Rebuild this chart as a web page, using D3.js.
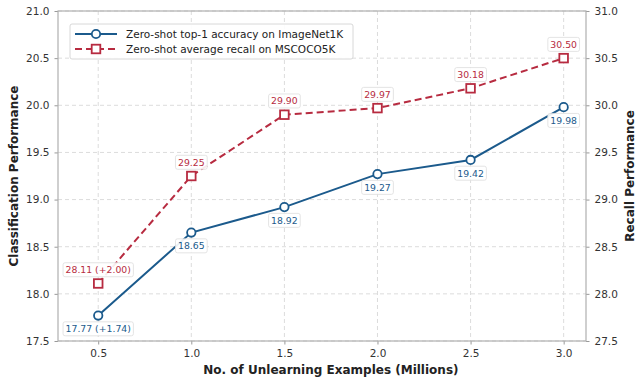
<!DOCTYPE html>
<html>
<head>
<meta charset="utf-8">
<script src="https://cdn.jsdelivr.net/npm/d3@7"></script>
<style>
  body { margin: 0; background: #fff; }
  text { font-family: "DejaVu Sans", sans-serif; }
</style>
</head>
<body>
<div id="chart"></div>
<script>
// data
const examples = [0.5, 1.0, 1.5, 2.0, 2.5, 3.0];
const accuracy = [17.77, 18.65, 18.92, 19.27, 19.42, 19.98];
const recall = [28.11, 29.25, 29.90, 29.97, 30.18, 30.50];
const accLabels = ["17.77 (+1.74)", "18.65", "18.92", "19.27", "19.42", "19.98"];
const recLabels = ["28.11 (+2.00)", "29.25", "29.90", "29.97", "30.18", "30.50"];
const xTicks = [0.5, 1.0, 1.5, 2.0, 2.5, 3.0];
const leftTicks = [17.5, 18.0, 18.5, 19.0, 19.5, 20.0, 20.5, 21.0];
const rightTicks = [27.5, 28.0, 28.5, 29.0, 29.5, 30.0, 30.5, 31.0];

const blue = "#1b5a8c", red = "#b72b40";
const W = 636, H = 377;
const margin = {top: 11, right: 50, bottom: 36, left: 58};
const width = W - margin.left - margin.right,
      height = H - margin.top - margin.bottom;

const svg = d3.select("#chart").append("svg")
    .attr("width", W).attr("height", H)
    .append("g")
    .attr("transform", "translate(" + margin.left + "," + margin.top + ")");

const x = d3.scaleLinear().domain([0.284, 3.12]).range([0, width]);
const yL = d3.scaleLinear().domain([17.5, 21.0]).range([height, 0]);
const yR = d3.scaleLinear().domain([27.5, 31.0]).range([height, 0]);

// grid
svg.append("g").selectAll("line").data(xTicks).enter().append("line")
    .attr("x1", d => x(d)).attr("x2", d => x(d))
    .attr("y1", 0).attr("y2", height)
    .attr("stroke", "#dcdcdc").attr("stroke-dasharray", "4,3");
svg.append("g").selectAll("line").data(leftTicks).enter().append("line")
    .attr("x1", 0).attr("x2", width)
    .attr("y1", d => yL(d)).attr("y2", d => yL(d))
    .attr("stroke", "#dcdcdc").attr("stroke-dasharray", "4,3");

// axes
function styleAxis(g) {
    g.select(".domain").remove();
    g.selectAll(".tick line").attr("stroke", "#999");
    g.selectAll(".tick text").attr("fill", "#333").style("font-size", "10.5px")
        .style("font-family", "DejaVu Sans");
}
svg.append("g").attr("transform", "translate(0," + height + ")")
    .call(d3.axisBottom(x).tickValues(xTicks).tickFormat(d3.format(".1f")).tickSize(3.5).tickPadding(5))
    .call(styleAxis);
svg.append("g")
    .call(d3.axisLeft(yL).tickValues(leftTicks).tickFormat(d3.format(".1f")).tickSize(3.5).tickPadding(5))
    .call(styleAxis);
svg.append("g").attr("transform", "translate(" + width + ",0)")
    .call(d3.axisRight(yR).tickValues(rightTicks).tickFormat(d3.format(".1f")).tickSize(3.5).tickPadding(5))
    .call(styleAxis);

svg.append("rect").attr("width", width).attr("height", height)
    .attr("fill", "none").attr("stroke", "#b0b0b0").attr("stroke-width", 1.2);

// axis titles
svg.append("text").attr("x", x(1.75)).attr("y", height + 33)
    .attr("text-anchor", "middle").style("font-size", "12px").style("font-weight", "bold")
    .attr("fill", "#222").text("No. of Unlearning Examples (Millions)");
svg.append("text").attr("transform", "translate(-40," + height / 2 + ") rotate(-90)")
    .attr("text-anchor", "middle").style("font-size", "12px").style("font-weight", "bold")
    .attr("fill", "#222").text("Classification Performance");
svg.append("text").attr("transform", "translate(" + (width + 48) + "," + height / 2 + ") rotate(-90)")
    .attr("text-anchor", "middle").style("font-size", "12px").style("font-weight", "bold")
    .attr("fill", "#222").text("Recall Performance");

// lines
const accData = examples.map((d, i) => [d, accuracy[i], accLabels[i]]);
const recData = examples.map((d, i) => [d, recall[i], recLabels[i]]);

svg.append("path").datum(accData)
    .attr("fill", "none").attr("stroke", blue).attr("stroke-width", 2)
    .attr("d", d3.line().x(d => x(d[0])).y(d => yL(d[1])));
svg.append("path").datum(recData)
    .attr("fill", "none").attr("stroke", red).attr("stroke-width", 2)
    .attr("stroke-dasharray", "7,4")
    .attr("d", d3.line().x(d => x(d[0])).y(d => yR(d[1])));

svg.selectAll(".dot").data(accData).enter().append("circle")
    .attr("cx", d => x(d[0])).attr("cy", d => yL(d[1])).attr("r", 4.2)
    .attr("fill", "#fff").attr("stroke", blue).attr("stroke-width", 1.8);
svg.selectAll(".sq").data(recData).enter().append("rect")
    .attr("x", d => x(d[0]) - 4.3).attr("y", d => yR(d[1]) - 4.3)
    .attr("width", 8.6).attr("height", 8.6)
    .attr("fill", "#fff").attr("stroke", red).attr("stroke-width", 1.8);

// value labels with boxes
function addLabel(px, py, txt, color) {
    const g = svg.append("g");
    const t = g.append("text").attr("x", px).attr("y", py).attr("dy", "0.35em")
        .attr("text-anchor", "middle").style("font-size", "9.3px").attr("fill", color).text(txt);
    const b = t.node().getBBox();
    g.insert("rect", "text").attr("x", b.x - 2.5).attr("y", b.y - 1.5)
        .attr("width", b.width + 5).attr("height", b.height + 3).attr("rx", 2)
        .attr("fill", "#fff").attr("fill-opacity", 0.9).attr("stroke", "#dddddd").attr("stroke-width", 0.8);
}
accData.forEach(d => addLabel(x(d[0]), yL(d[1]) + 13.5, d[2], blue));
recData.forEach(d => addLabel(x(d[0]), yR(d[1]) - 13.5, d[2], red));

// legend
const lg = svg.append("g").attr("transform", "translate(12,13)");
lg.append("rect").attr("width", 283).attr("height", 35).attr("rx", 2)
    .attr("fill", "#fff").attr("fill-opacity", 0.9).attr("stroke", "#d8d8d8");
lg.append("line").attr("x1", 5).attr("x2", 47).attr("y1", 10).attr("y2", 10)
    .attr("stroke", blue).attr("stroke-width", 2);
lg.append("circle").attr("cx", 26).attr("cy", 10).attr("r", 4.2)
    .attr("fill", "#fff").attr("stroke", blue).attr("stroke-width", 1.8);
lg.append("line").attr("x1", 5).attr("x2", 47).attr("y1", 25).attr("y2", 25)
    .attr("stroke", red).attr("stroke-width", 2).attr("stroke-dasharray", "7,4");
lg.append("rect").attr("x", 21.7).attr("y", 20.7).attr("width", 8.6).attr("height", 8.6)
    .attr("fill", "#fff").attr("stroke", red).attr("stroke-width", 1.8);
lg.append("text").attr("x", 56).attr("y", 10).attr("dy", "0.35em")
    .style("font-size", "10.5px").attr("fill", "#222").text("Zero-shot top-1 accuracy on ImageNet1K");
lg.append("text").attr("x", 56).attr("y", 25).attr("dy", "0.35em")
    .style("font-size", "10.5px").attr("fill", "#222").text("Zero-shot average recall on MSCOCO5K");
</script>
</body>
</html>
